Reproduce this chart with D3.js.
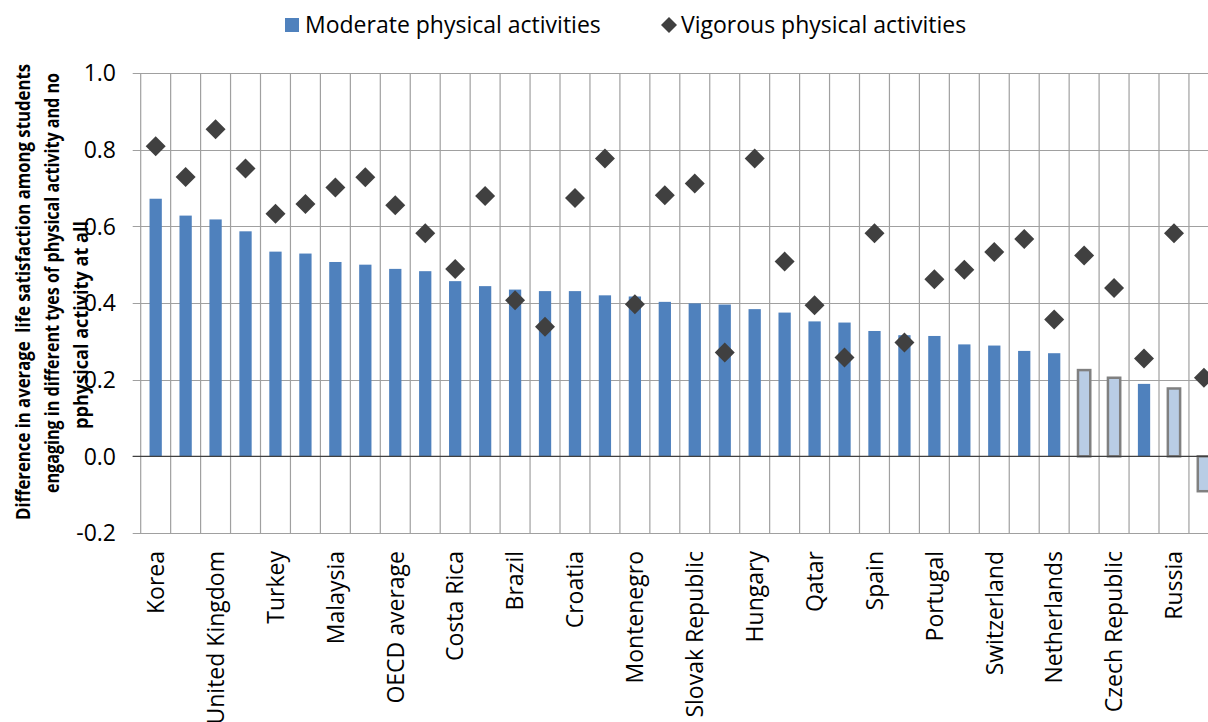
<!DOCTYPE html>
<html>
<head>
<meta charset="utf-8">
<script src="https://cdn.jsdelivr.net/npm/d3@7"></script>
<style>
  body { margin: 0; background: #fff; }
  svg { display: block; font-family: "Open Sans", sans-serif; }
</style>
</head>
<body>
<svg id="chart"></svg>
<script>
// category labels (only every other one is printed on the axis in the original)
let labels = [
    "Korea", "", "United Kingdom", "", "Turkey", "", "Malaysia", "", "OECD average", "",
    "Costa Rica", "", "Brazil", "", "Croatia", "", "Montenegro", "", "Slovak Republic", "",
    "Hungary", "", "Qatar", "", "Spain", "", "Portugal", "", "Switzerland", "",
    "Netherlands", "", "Czech Republic", "", "Russia", ""
];

let moderate = [
    0.672, 0.628, 0.618, 0.587, 0.534, 0.529, 0.507, 0.500, 0.489, 0.483,
    0.457, 0.444, 0.435, 0.431, 0.431, 0.420, 0.417, 0.403, 0.399, 0.396,
    0.384, 0.375, 0.352, 0.349, 0.327, 0.316, 0.314, 0.292, 0.289, 0.275,
    0.269, 0.225, 0.205, 0.189, 0.177, -0.091
];

let vigorous = [
    0.809, 0.729, 0.853, 0.751, 0.633, 0.658, 0.701, 0.728, 0.655, 0.582,
    0.489, 0.679, 0.407, 0.338, 0.674, 0.777, 0.397, 0.681, 0.712, 0.271,
    0.777, 0.508, 0.394, 0.258, 0.582, 0.297, 0.462, 0.487, 0.533, 0.567,
    0.357, 0.524, 0.439, 0.255, 0.582, 0.205
];

// moderate values that are not significant (drawn as light bars)
let notSignificant = [31, 32, 34, 35];

let yTicks = [-0.2, 0.0, 0.2, 0.4, 0.6, 0.8, 1.0];

let width = 1208;
let height = 722;
let plotLeft = 140.7;
let plotTop = 73;
let plotBottom = 533;
let step = 29.95;

let svg = d3.select("#chart")
    .attr("width", width)
    .attr("height", height);

let x = d3.scaleBand()
    .domain(d3.range(labels.length))
    .range([plotLeft, plotLeft + step * labels.length])
    .padding(0);

let y = d3.scaleLinear()
    .domain([-0.2, 1.0])
    .range([plotBottom, plotTop]);

let gridColor = "#a0a0a0";

// horizontal gridlines + left ticks
svg.append("g")
    .selectAll("line")
    .data(yTicks)
    .enter()
    .append("line")
        .attr("x1", plotLeft - 8)
        .attr("x2", x.range()[1])
        .attr("y1", d => Math.round(y(d)) + 0.5)
        .attr("y2", d => Math.round(y(d)) + 0.5)
        .attr("stroke", gridColor)
        .attr("stroke-width", 1.2);

// vertical gridlines at category boundaries
svg.append("g")
    .selectAll("line")
    .data(d3.range(labels.length + 1))
    .enter()
    .append("line")
        .attr("x1", d => plotLeft + d * x.step())
        .attr("x2", d => plotLeft + d * x.step())
        .attr("y1", plotTop)
        .attr("y2", plotBottom + 1)
        .attr("stroke", gridColor)
        .attr("stroke-width", 1.2);

// y tick labels (plain hyphen for negatives, like the original)
svg.append("g")
    .selectAll("text")
    .data(yTicks)
    .enter()
    .append("text")
        .attr("x", 116)
        .attr("y", d => y(d))
        .attr("dy", "0.36em")
        .attr("text-anchor", "end")
        .attr("font-size", 23)
        .attr("fill", "#000")
        .text(d => d3.format(".1f")(d).replace("\u2212", "-"));

// bars
let barW = x.bandwidth() * 0.41;
svg.append("g")
    .selectAll("rect")
    .data(moderate)
    .enter()
    .append("rect")
        .attr("x", (d, i) => x(i) + (x.bandwidth() - barW) / 2)
        .attr("y", d => y(Math.max(0, d)))
        .attr("width", barW)
        .attr("height", d => Math.abs(y(d) - y(0)))
        .attr("fill", (d, i) => notSignificant.includes(i) ? "#b9cde5" : "#4f81bd")
        .attr("stroke", (d, i) => notSignificant.includes(i) ? "#808080" : "none")
        .attr("stroke-width", 2.5);

// zero line
svg.append("line")
    .attr("x1", plotLeft - 8)
    .attr("x2", x.range()[1])
    .attr("y1", y(0))
    .attr("y2", y(0))
    .attr("stroke", "#404040")
    .attr("stroke-width", 1.3);

// diamonds
let diamond = d3.symbol().type(d3.symbolSquare).size(200);
svg.append("g")
    .selectAll("path")
    .data(vigorous)
    .enter()
    .append("path")
        .attr("d", diamond)
        .attr("transform", (d, i) => `translate(${x(i) + x.bandwidth() / 2},${y(d)}) rotate(45)`)
        .attr("fill", "#404040");

// x labels
svg.append("g")
    .selectAll("text")
    .data(labels)
    .enter()
    .append("text")
        .attr("transform", (d, i) => `translate(${x(i) + x.bandwidth() / 2},551) rotate(-90)`)
        .attr("dy", "0.36em")
        .attr("text-anchor", "end")
        .attr("font-size", 23)
        .attr("fill", "#000")
        .text(d => d);

// y axis title
let titleLines = [
    { text: "Difference in average  life satisfaction among students", x: 23, cy: 292, len: 456 },
    { text: "engaging in different tyes of physical activity and no", x: 52, cy: 283, len: 420 },
    { text: "pphysical activity at all", x: 81, cy: 325, len: 208 }
];
svg.append("g")
    .selectAll("text")
    .data(titleLines)
    .enter()
    .append("text")
        .attr("transform", d => `translate(${d.x},${d.cy}) rotate(-90)`)
        .attr("dy", "0.36em")
        .attr("text-anchor", "middle")
        .attr("font-size", 19)
        .attr("font-weight", "bold")
        .attr("textLength", d => d.len)
        .attr("lengthAdjust", "spacingAndGlyphs")
        .attr("fill", "#000")
        .style("white-space", "pre")
        .text(d => d.text);

// legend
let legend = svg.append("g");
legend.append("rect")
    .attr("x", 285)
    .attr("y", 18)
    .attr("width", 14)
    .attr("height", 14)
    .attr("fill", "#4f81bd");
legend.append("text")
    .attr("x", 305)
    .attr("y", 25)
    .attr("dy", "0.36em")
    .attr("font-size", 23)
    .text("Moderate physical activities");
legend.append("path")
    .attr("d", d3.symbol().type(d3.symbolSquare).size(128))
    .attr("transform", "translate(669,25) rotate(45)")
    .attr("fill", "#404040");
legend.append("text")
    .attr("x", 681)
    .attr("y", 25)
    .attr("dy", "0.36em")
    .attr("font-size", 23)
    .text("Vigorous physical activities");
</script>
</body>
</html>
